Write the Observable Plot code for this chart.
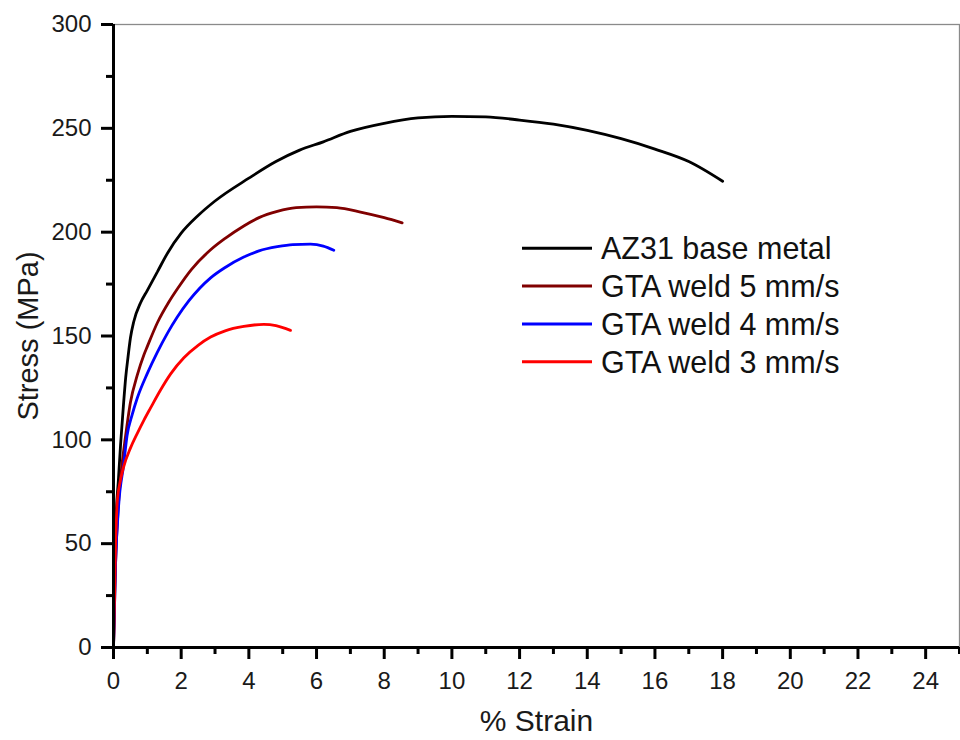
<!DOCTYPE html>
<html>
<head>
<meta charset="utf-8">
<script src="https://cdn.jsdelivr.net/npm/d3@7"></script>
<script src="https://cdn.jsdelivr.net/npm/@observablehq/plot@0.6"></script>
<style>
  html, body { margin: 0; padding: 0; background: #fff; overflow: hidden; }
  #wrap { position: relative; width: 960px; height: 740px; }
  #legend { position: absolute; left: 0; top: 0; pointer-events: none; }
</style>
</head>
<body>
<div id="wrap"></div>
<script>
// ---- Data ----
const seriesNames = ["AZ31 base metal", "GTA weld 5 mm/s", "GTA weld 4 mm/s", "GTA weld 3 mm/s"];
const seriesColors = ["#000000", "#800000", "#0000ff", "#ff0000"];

const xTicks = [0, 2, 4, 6, 8, 10, 12, 14, 16, 18, 20, 22, 24];
const xMinorTicks = [1, 3, 5, 7, 9, 11, 13, 15, 17, 19, 21, 23, 25];
const yTicks = [0, 50, 100, 150, 200, 250, 300];
const yMinorTicks = [25, 75, 125, 175, 225, 275];

// [strain %, stress MPa]
const az31 = [[0,0],[0.06,56],[0.15,82],[0.21,98],[0.3,118],[0.36,130],[0.43,140],[0.5,149],[0.6,157],[0.8,166],[1.0,172],[1.3,181],[1.6,190],[2.0,199.5],[2.5,208],[3.0,215],[4.0,226],[4.8,234],[5.5,239.5],[6.2,243.5],[7,248.5],[8,252.4],[9,255],[10,255.8],[11,255.5],[12,254],[13,252],[14,249],[15,245],[16,240],[17,234],[18,224.5]];
const gta5 = [[0,0],[0.06,40],[0.15,70],[0.25,88],[0.35,101],[0.5,118],[0.7,131],[0.9,141],[1.0,145],[1.3,156.5],[1.64,166.5],[1.9,173],[2.3,182],[2.87,191.5],[3.3,197],[3.85,203],[4.3,207],[4.84,210],[5.4,211.8],[6.0,212.2],[6.6,211.8],[7.3,209.7],[8.0,207],[8.53,204.5]];
const gta4 = [[0,0],[0.06,40],[0.15,68],[0.3,88],[0.4,102],[0.55,112],[0.7,120],[1.0,132],[1.29,142],[1.6,151.5],[1.88,159],[2.23,167],[2.87,178],[3.3,183],[3.85,188],[4.3,191],[4.84,193],[5.3,194],[5.82,194.2],[6.2,193.3],[6.51,191.3]];
const gta3 = [[0,0],[0.06,48],[0.11,70],[0.2,80],[0.3,87],[0.5,96],[0.7,103],[0.9,109.5],[1.1,115.5],[1.39,124],[1.7,132],[2.08,139.5],[2.5,145.5],[2.87,149.5],[3.3,152.5],[3.85,154.6],[4.44,155.6],[4.8,155],[5.23,152.7]];

const allSeries = [az31, gta5, gta4, gta3];
const rows = allSeries.flatMap((s, i) => s.map(([x, y]) => ({ series: seriesNames[i], x, y })));

const font = "'Liberation Sans', Arial, Helvetica, sans-serif";

const chart = Plot.plot({
  width: 960,
  height: 740,
  marginLeft: 113,
  marginRight: 1,
  marginTop: 24,
  marginBottom: 93,
  x: { domain: [0, 25] },
  y: { domain: [0, 300] },
  color: { domain: seriesNames, range: seriesColors },
  style: { fontFamily: font, background: "#fff", color: "#111" },
  marks: [
    Plot.frame({ stroke: "#8a8a8a", strokeWidth: 1.3 }),
    Plot.line(rows, { x: "x", y: "y", z: "series", stroke: "series", strokeWidth: 2.8, curve: "monotone-x" }),
    Plot.axisX(xTicks, { tickSize: 12, strokeWidth: 3, stroke: "#000", fontSize: 24, tickPadding: 12, label: null, fill: "#1a1a1a" }),
    Plot.axisX(xMinorTicks, { tickSize: 7, strokeWidth: 3, stroke: "#000", text: null, label: null }),
    Plot.axisY(yTicks, { tickSize: 12, strokeWidth: 3, stroke: "#000", fontSize: 24, tickPadding: 10, label: null, fill: "#1a1a1a" }),
    Plot.axisY(yMinorTicks, { tickSize: 7, strokeWidth: 3, stroke: "#000", text: null, label: null }),
    Plot.ruleX([0], { strokeWidth: 3, stroke: "#000" }),
    Plot.ruleY([0], { strokeWidth: 3, stroke: "#000" }),
    Plot.text(["% Strain"], { text: d => d, frameAnchor: "bottom", dy: 83, fontSize: 30, fill: "#1a1a1a" }),
    Plot.text(["Stress (MPa)"], { text: d => d, frameAnchor: "left", dx: -85, rotate: -90, textAnchor: "middle", fontSize: 29, fill: "#1a1a1a" })
  ]
});

const wrap = document.getElementById("wrap");
wrap.appendChild(chart);

// ---- Legend overlay (HTML-level SVG, placed over the chart) ----
const legendLeft = 522, legendTop = 248.3, legendStep = 37.8, swatchW = 70, legendFont = 30.5;
const lg = d3.select(wrap).append("svg")
  .attr("id", "legend")
  .attr("width", 960).attr("height", 740)
  .style("font-family", font);
const item = lg.selectAll("g").data(seriesNames).join("g")
  .attr("transform", (d, i) => `translate(${legendLeft},${legendTop + i * legendStep})`);
item.append("line")
  .attr("x1", 0).attr("x2", swatchW).attr("y1", 0).attr("y2", 0)
  .attr("stroke", (d, i) => seriesColors[i]).attr("stroke-width", 3);
item.append("text")
  .attr("x", swatchW + 9).attr("y", 0).attr("dy", "0.36em")
  .attr("font-size", legendFont).attr("fill", "#111")
  .text(d => d);
</script>
</body>
</html>
